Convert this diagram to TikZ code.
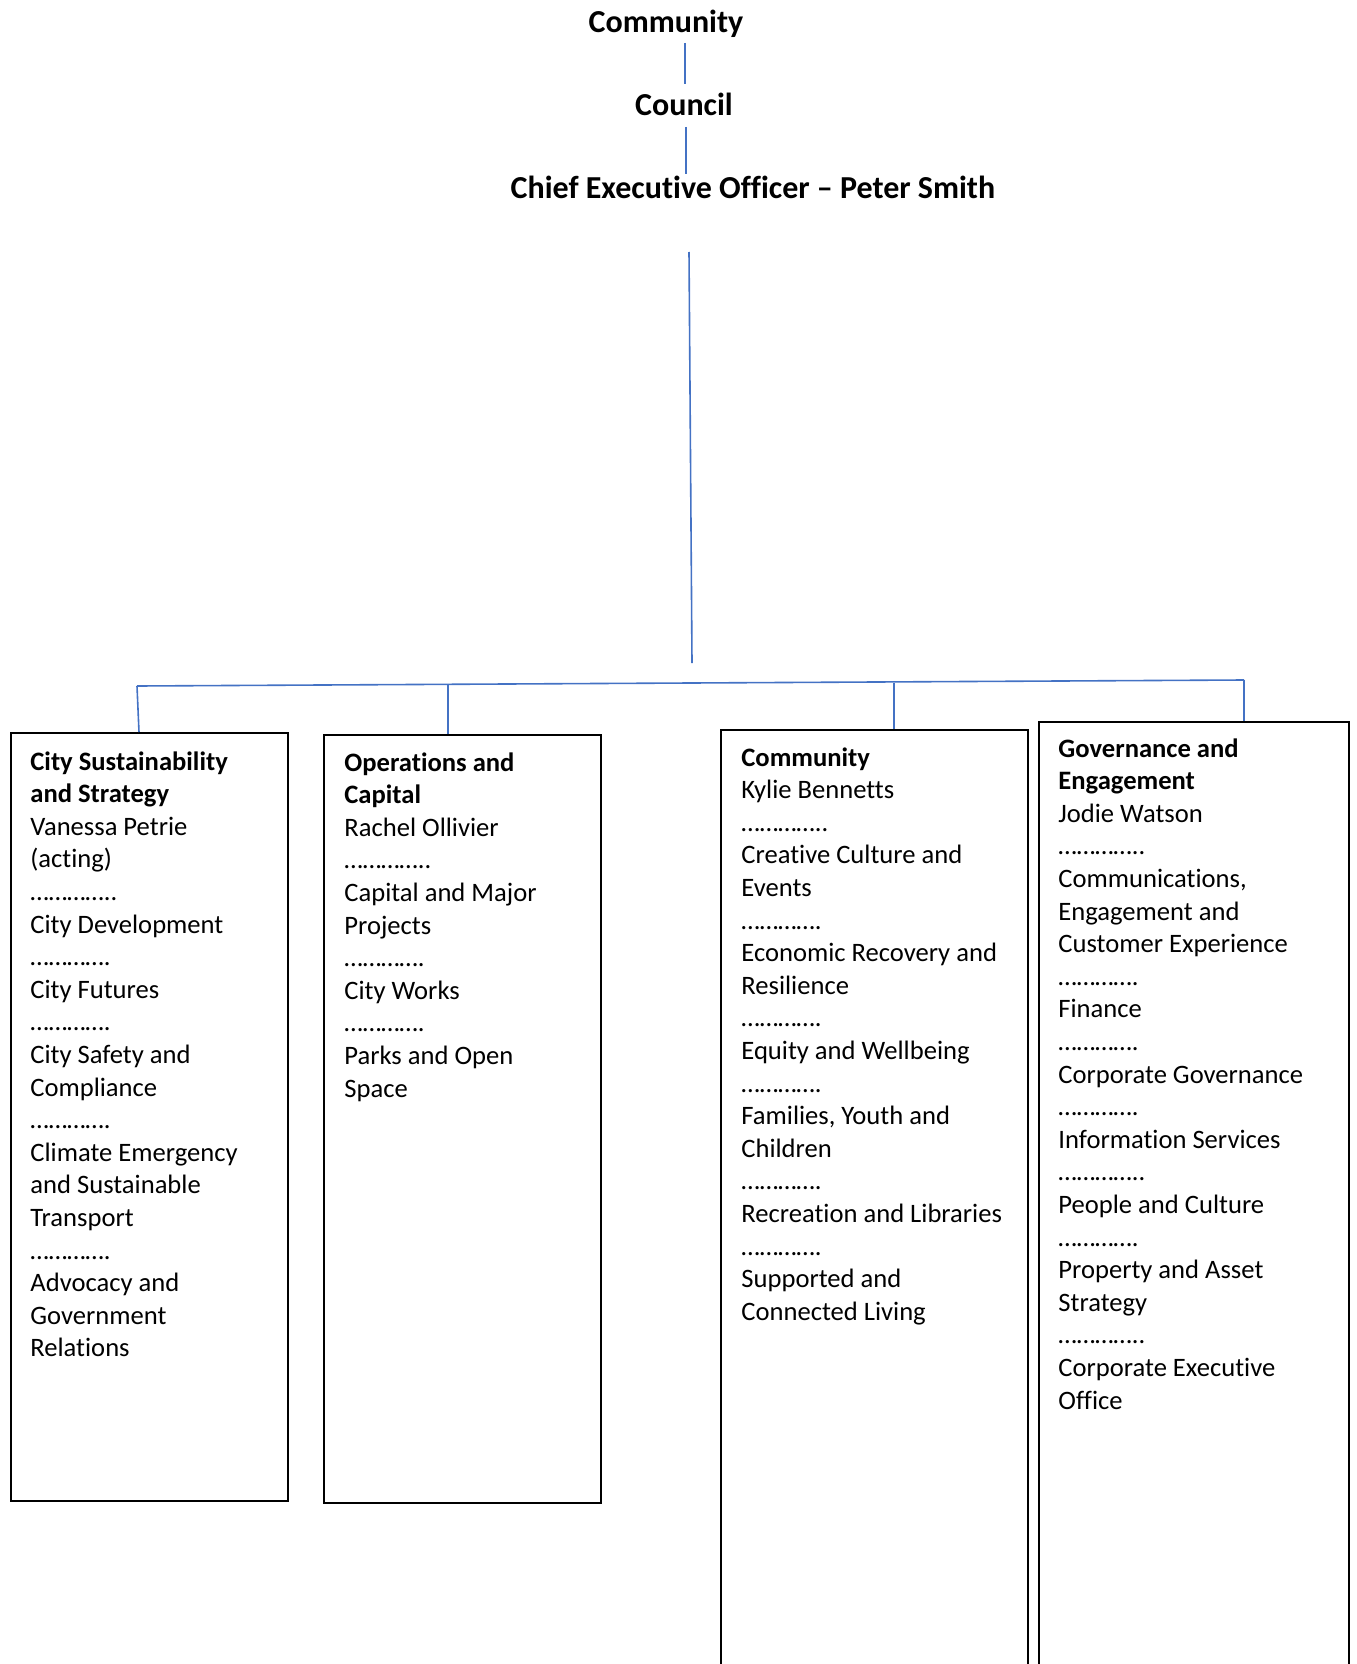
\documentclass[tikz,border=0pt]{standalone}
\usepackage{fontspec}
\setmainfont{Carlito}[Ligatures={NoCommon}]
\usepackage{tikz}

\definecolor{linkblue}{HTML}{4472C4}

\begin{document}
\begin{tikzpicture}[x=0.5pt, y=-0.5pt,
        head/.style={font=\fontsize{16}{19.5}\selectfont\bfseries, inner sep=0pt},
        link/.style={draw=linkblue, line width=0.8pt},
        unit/.style={draw=black, line width=1pt, anchor=north west, inner sep=0pt},
        unittext/.style={anchor=north west, align=left, inner sep=0pt,
            font=\fontsize{13.3}{16.3}\selectfont}]
    \useasboundingbox (0,0) rectangle (1356,1664);

    % top of the chart
    \node [head] (people) at (666,24) {Community};
    \node [head] (council) at (684,104) {Council};
    \node [head] (ceo) at (753,187) {Chief Executive Officer – Peter Smith};

    \coordinate (p1) at (685,43);  \coordinate (c1) at (685,84);
    \coordinate (p2) at (686,127); \coordinate (c2) at (686,174);
    \coordinate (ceo foot) at (689,252);
    \coordinate (ceo end) at (692,663);
    \draw [link] (p1) -- (c1);
    \draw [link] (p2) -- (c2);
    \draw [link] (ceo foot) -- (ceo end);

    % the four directorates
    \node [unit, minimum width=138.5pt, minimum height=384pt] (css) at (10,732) {};
    \node [unit, minimum width=138.5pt, minimum height=384pt] (opc) at (323,734) {};
    \node [unit, minimum width=153.5pt, minimum height=480pt] (com) at (720,729) {};
    \node [unit, minimum width=155pt, minimum height=480pt] (gov) at (1038,721) {};

    \coordinate (bar west) at (137,686);
    \coordinate (bar east) at (1244,680);
    \coordinate (d2) at (448,685);
    \coordinate (d3) at (894,683);
    \draw [link] (bar west) -- (bar east);
    \draw [link] (bar west) -- (139,0 |- css.north);
    \draw [link] (d2) -- (d2 |- opc.north);
    \draw [link] (d3) -- (d3 |- com.north);
    \draw [link] (bar east) -- (bar east |- gov.north);

    \node [unittext] (css text) at ([shift={(20,19)}]css.north west)
        {\textbf{City Sustainability}\\ \textbf{and Strategy}\\ Vanessa Petrie\\ (acting)\\
         …………..\\ City Development\\ ………….\\ City Futures\\ ………….\\
         City Safety and\\ Compliance\\ ………….\\ Climate Emergency\\
         and Sustainable\\ Transport\\ ………….\\ Advocacy and\\ Government\\ Relations};
    \node [unittext] (opc text) at ([shift={(21,18)}]opc.north west)
        {\textbf{Operations and}\\ \textbf{Capital}\\ Rachel Ollivier\\ …………..\\
         Capital and Major\\ Projects\\ ………….\\ City Works\\ ………….\\
         Parks and Open\\ Space};
    \node [unittext] (com text) at ([shift={(21,18)}]com.north west)
        {\textbf{Community}\\ Kylie Bennetts\\ …………..\\ Creative Culture and\\ Events\\
         ………….\\ Economic Recovery and\\ Resilience\\ ………….\\ Equity and Wellbeing\\
         ………….\\ Families, Youth and\\ Children\\ ………….\\ Recreation and Libraries\\
         ………….\\ Supported and\\ Connected Living};
    \node [unittext] (gov text) at ([shift={(20,17)}]gov.north west)
        {\textbf{Governance and}\\ \textbf{Engagement}\\ Jodie Watson\\ …………..\\
         Communications,\\ Engagement and\\ Customer Experience\\ ………….\\ Finance\\
         ………….\\ Corporate Governance\\ ………….\\ Information Services\\ …………..\\
         People and Culture\\ ………….\\ Property and Asset\\ Strategy\\ …………..\\
         Corporate Executive\\ Office};
\end{tikzpicture}
\end{document}
